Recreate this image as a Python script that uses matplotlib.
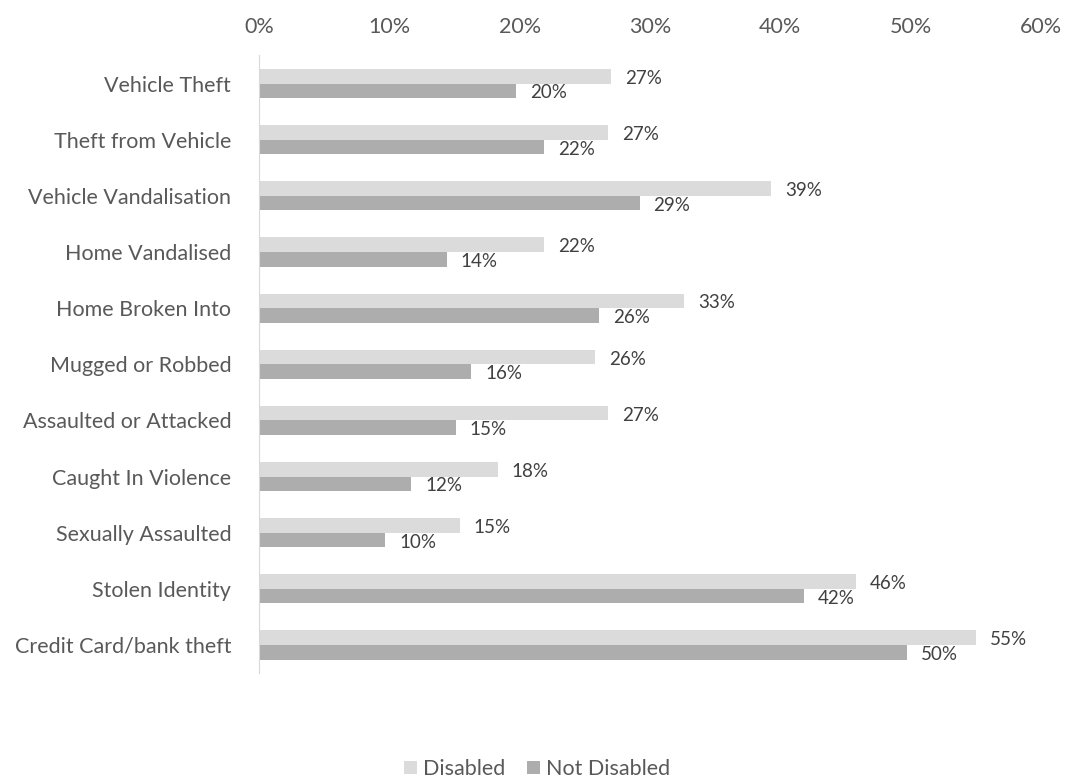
import numpy as np
import matplotlib.pyplot as plt
from matplotlib.ticker import FuncFormatter

plt.rcParams['font.family'] = ['Lato', 'DejaVu Sans']

# Dades llegides del gràfic (percentatges)
CATEGORIES = ['Vehicle Theft', 'Theft from Vehicle', 'Vehicle Vandalisation',
              'Home Vandalised', 'Home Broken Into', 'Mugged or Robbed',
              'Assaulted or Attacked', 'Caught In Violence', 'Sexually Assaulted',
              'Stolen Identity', 'Credit Card/bank theft']
DISABLED = [27.0, 26.8, 39.3, 21.9, 32.6, 25.8, 26.8, 18.3, 15.4, 45.8, 55.0]
NOT_DISABLED = [19.7, 21.9, 29.2, 14.4, 26.1, 16.3, 15.1, 11.7, 9.7, 41.8, 49.7]

COL_D = '#DBDBDB'
COL_ND = '#ADADAD'
TXT = '#595959'

fig = plt.figure(figsize=(10.7, 7.81), dpi=100)
ax = fig.add_axes([259 / 1070, 1 - 673 / 781, (1041 - 259) / 1070, (673 - 55.5) / 781])

Y = np.arange(len(CATEGORIES))
H = 0.26
bars_d = ax.barh(Y - H / 2, DISABLED, H, color=COL_D, label='Disabled')
bars_nd = ax.barh(Y + H / 2, NOT_DISABLED, H, color=COL_ND, label='Not Disabled')

# Etiquetes de valor al final de cada barra
for bars in (bars_d, bars_nd):
    for b in bars:
        v = b.get_width()
        ax.annotate('{:.0f}%'.format(v), (v, b.get_y() + b.get_height() / 2),
                    xytext=(10, -1.5), textcoords='offset points',
                    ha='left', va='center', fontsize=13.5, color='#404040')

ax.set_xlim(0, 60)
ax.set_ylim(len(CATEGORIES) - 0.5, -0.5)
ax.set_xticks(np.arange(0, 61, 10))
ax.xaxis.set_major_formatter(FuncFormatter(lambda x, _: '{:.0f}%'.format(x)))
ax.xaxis.tick_top()
ax.tick_params(axis='x', length=0, pad=13, labelsize=15.5, labelcolor=TXT)
ax.set_yticks(Y)
ax.set_yticklabels(CATEGORIES)
ax.tick_params(axis='y', length=0, pad=20, labelsize=15.5, labelcolor=TXT)

for s in ['top', 'right', 'bottom']:
    ax.spines[s].set_visible(False)
ax.spines['left'].set_color('#D9D9D9')

fig.legend(handles=[bars_d, bars_nd], labels=['Disabled', 'Not Disabled'],
           loc='center', bbox_to_anchor=(537 / 1070, 1 - 769 / 781), ncol=2,
           frameon=False, fontsize=15.5, labelcolor=TXT, handlelength=0.6,
           handleheight=0.6, handletextpad=0.3, columnspacing=1.0)

plt.savefig('out.png', dpi=100)
